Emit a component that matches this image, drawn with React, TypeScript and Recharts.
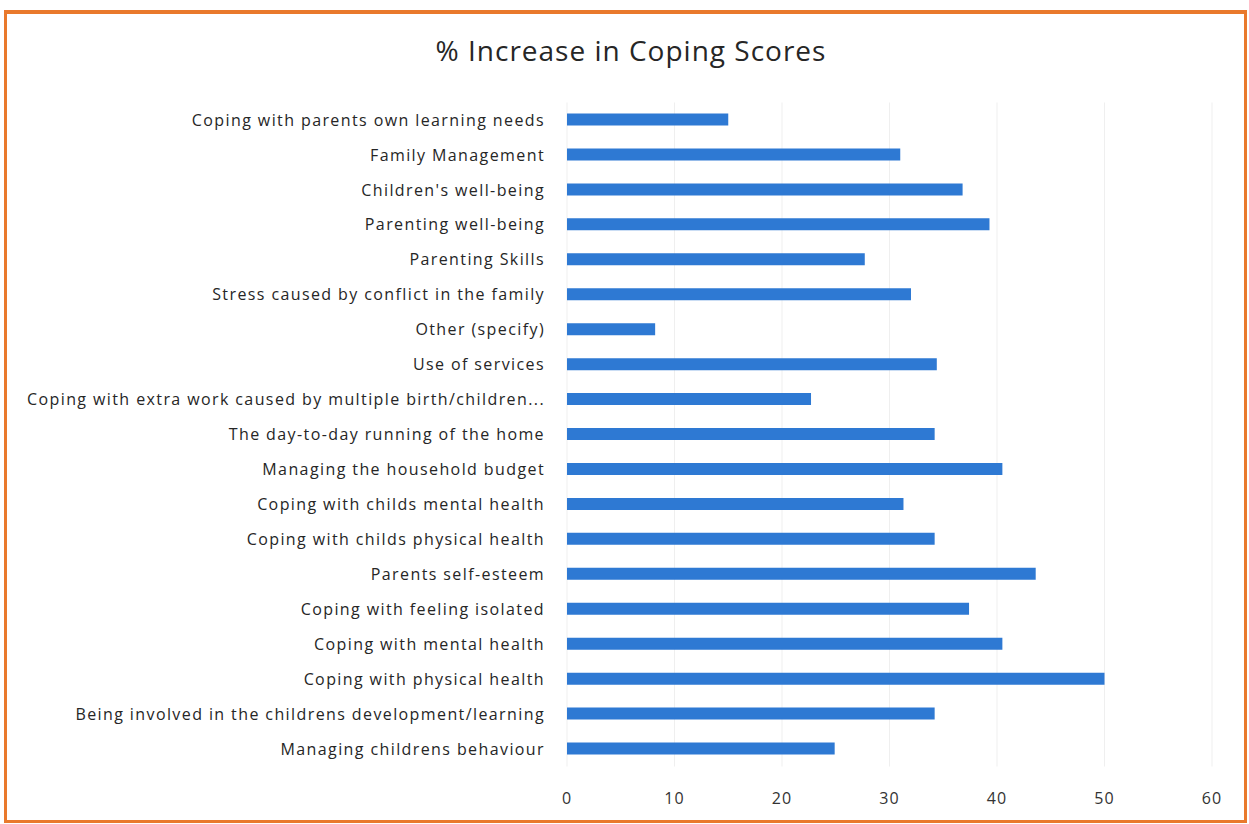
import { BarChart, Bar, XAxis, YAxis, CartesianGrid } from 'recharts';

// categories, top to bottom as they appear in the chart
const categories = [
  'Coping with parents own learning needs',
  'Family Management',
  "Children's well-being",
  'Parenting well-being',
  'Parenting Skills',
  'Stress caused by conflict in the family',
  'Other (specify)',
  'Use of services',
  'Coping with extra work caused by multiple birth/children...',
  'The day-to-day running of the home',
  'Managing the household budget',
  'Coping with childs mental health',
  'Coping with childs physical health',
  'Parents self-esteem',
  'Coping with feeling isolated',
  'Coping with mental health',
  'Coping with physical health',
  'Being involved in the childrens development/learning',
  'Managing childrens behaviour',
];

const increase = [
  15.0, 31.0, 36.8, 39.3, 27.7, 32.0, 8.2, 34.4, 22.7, 34.2,
  40.5, 31.3, 34.2, 43.6, 37.4, 40.5, 50.0, 34.2, 24.9,
];

const xTicks = [0, 10, 20, 30, 40, 50, 60];

const chartData = categories.map((name, i) => ({ name, value: increase[i] }));

const FONT = '"Open Sans", sans-serif';

export default function App() {
  return (
    <div style={{ position: 'absolute', left: 0, top: 0, width: 1249, height: 824, background: '#fff', overflow: 'hidden' }}>
      {/* orange frame */}
      <div
        style={{
          position: 'absolute', left: 4, top: 10, width: 1237, height: 806,
          border: '3px solid #E9792C', borderTopWidth: 4,
        }}
      />
      <div
        style={{
          position: 'absolute', left: 0, top: 31, width: 1262, textAlign: 'center',
          fontFamily: FONT, fontSize: 28, letterSpacing: 1, color: '#262626',
        }}
      >
        % Increase in Coping Scores
      </div>
      <div style={{ position: 'absolute', left: 0, top: 0 }}>
        <BarChart
          width={1249}
          height={824}
          data={chartData}
          layout="vertical"
          margin={{ top: 102.5, right: 37, bottom: 27.5, left: 10 }}
        >
          <CartesianGrid horizontal={false} stroke="#efefef" />
          <XAxis
            type="number"
            domain={[0, 60]}
            ticks={xTicks}
            axisLine={false}
            tickLine={false}
            tickSize={0}
            tickMargin={26}
            height={30}
            tick={{ fill: '#333', fontSize: 16, fontFamily: FONT, letterSpacing: 1 }}
          />
          <YAxis
            type="category"
            dataKey="name"
            width={557}
            interval={0}
            axisLine={false}
            tickLine={false}
            tickSize={0}
            tickMargin={22}
            tick={{ fill: '#262626', fontSize: 16, fontFamily: FONT, letterSpacing: 1.4 }}
          />
          <Bar dataKey="value" fill="#2E79D3" barSize={12} isAnimationActive={false} />
        </BarChart>
      </div>
    </div>
  );
}
